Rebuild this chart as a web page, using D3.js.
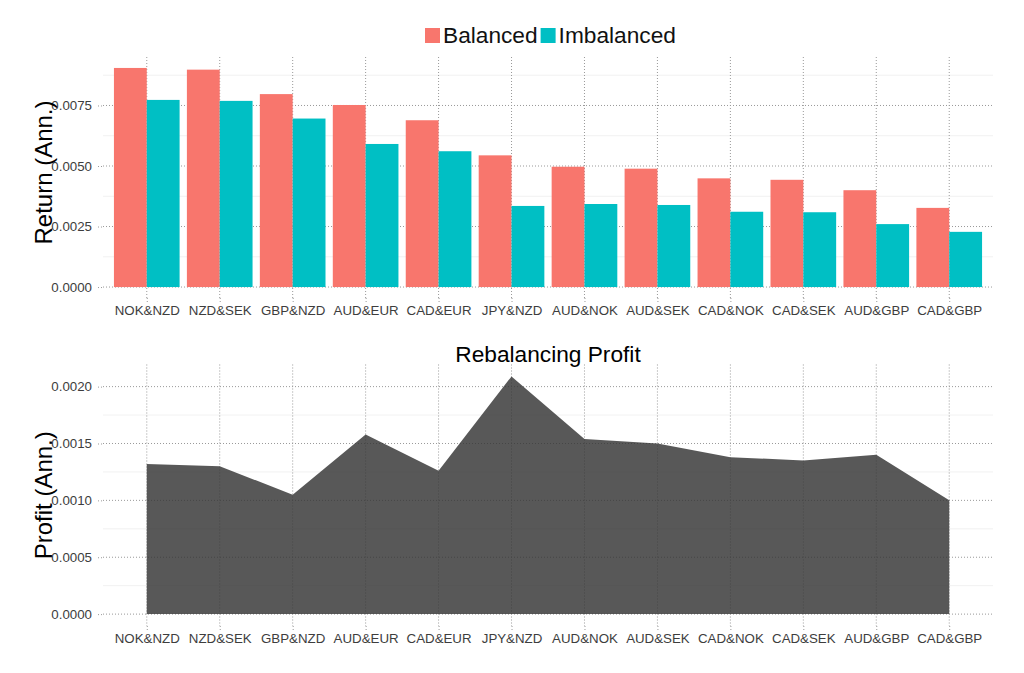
<!DOCTYPE html>
<html>
<head>
<meta charset="utf-8">
<script src="https://cdn.jsdelivr.net/npm/d3@7/dist/d3.min.js"></script>
<style>
  body { margin: 0; background: #fff; }
  text { font-family: "Liberation Sans", Arial, Helvetica, sans-serif; }
</style>
</head>
<body>
<svg id="chart" width="1024" height="673"></svg>
<script>
// currency pairs, in the plotted order
const pairs = ["NOK&NZD", "NZD&SEK", "GBP&NZD", "AUD&EUR", "CAD&EUR", "JPY&NZD",
               "AUD&NOK", "AUD&SEK", "CAD&NOK", "CAD&SEK", "AUD&GBP", "CAD&GBP"];
// annualised returns
const balanced   = [0.00905, 0.00898, 0.00797, 0.00752, 0.00689, 0.00544,
                    0.00497, 0.00489, 0.00449, 0.00443, 0.00400, 0.00327];
const imbalanced = [0.00773, 0.00769, 0.00696, 0.00591, 0.00561, 0.00335,
                    0.00343, 0.00339, 0.00311, 0.00309, 0.00260, 0.00228];
// rebalancing profit (area chart)
const profit     = [0.00132, 0.00130, 0.00105, 0.00158, 0.00126, 0.00209,
                    0.00154, 0.00150, 0.00138, 0.00135, 0.00140, 0.00100];

const seriesNames  = ["Balanced", "Imbalanced"];
const seriesColors = ["#F8766D", "#00BFC4"];
const returnTicks  = [0, 0.0025, 0.005, 0.0075];
const profitTicks  = [0, 0.0005, 0.001, 0.0015, 0.002];

const svg = d3.select("#chart");
const fmt = d3.format(".4f");
const left = 103, right = 993;

// ggplot-like discrete x: 0.6 step of padding at each end
const xPoint = d3.scalePoint().domain(pairs).range([left, right]).padding(0.6);
const xBand = d3.scaleBand().domain(pairs).range([left, right])
  .paddingInner(0.1).paddingOuter(0.15);
const xSub = d3.scaleBand().domain(seriesNames).range([0, xBand.bandwidth()]);

function expand(maxV) { return [-0.05 * maxV, 1.05 * maxV]; }

function gridAndAxes(g, y, ticks, top, bottom) {
  const step = ticks[1] - ticks[0];
  const dom = y.domain();
  const minor = ticks.map(t => t + step / 2).filter(v => v < dom[1]);
  g.append("g").selectAll("line").data(minor).join("line")
    .attr("x1", left).attr("x2", right)
    .attr("y1", d => y(d)).attr("y2", d => y(d))
    .attr("stroke", "#eeeeee").attr("stroke-width", 0.8);
  g.append("g").selectAll("line").data(ticks).join("line")
    .attr("x1", left).attr("x2", right)
    .attr("y1", d => y(d)).attr("y2", d => y(d))
    .attr("stroke", "#999").attr("stroke-dasharray", "1,2");
  g.append("g").selectAll("line").data(pairs).join("line")
    .attr("x1", d => xPoint(d)).attr("x2", d => xPoint(d))
    .attr("y1", top).attr("y2", bottom)
    .attr("stroke", "#999").attr("stroke-dasharray", "1,2");

  const ya = g.append("g").attr("transform", `translate(${left - 1},0)`)
    .call(d3.axisLeft(y).tickValues(ticks).tickFormat(fmt).tickSize(5).tickPadding(5));
  const xa = g.append("g").attr("transform", `translate(0,${bottom})`)
    .call(d3.axisBottom(xPoint).tickSize(4).tickPadding(4));
  [ya, xa].forEach(a => {
    a.select(".domain").remove();
    a.selectAll(".tick line").attr("stroke", "#999").attr("stroke-dasharray", "1,2");
    a.selectAll(".tick text").attr("fill", "#3d3d3d").style("font-size", "13.3px")
      .style("font-family", '"Liberation Sans", Arial, sans-serif');
  });
}

// ---------- top: grouped bars ----------
const topY0 = 57, topY1 = 298;
const yRet = d3.scaleLinear().domain(expand(d3.max(balanced))).range([topY1, topY0]);
const gTop = svg.append("g");
gridAndAxes(gTop, yRet, returnTicks, topY0, topY1);

const barData = pairs.flatMap((p, i) => [
  { pair: p, s: seriesNames[0], v: balanced[i] },
  { pair: p, s: seriesNames[1], v: imbalanced[i] }
]);
const color = d3.scaleOrdinal().domain(seriesNames).range(seriesColors);
gTop.append("g").selectAll("rect").data(barData).join("rect")
  .attr("x", d => xBand(d.pair) + xSub(d.s))
  .attr("width", xSub.bandwidth())
  .attr("y", d => yRet(d.v))
  .attr("height", d => yRet(0) - yRet(d.v))
  .attr("fill", d => color(d.s));

svg.append("text")
  .attr("transform", `translate(52,${(topY0 + topY1) / 2 - 5}) rotate(-90)`)
  .attr("text-anchor", "middle").style("font-size", "24px").attr("fill", "#000")
  .text("Return (Ann.)");

// legend
const leg = svg.append("g");
let lx = 0;
seriesNames.forEach((s, i) => {
  leg.append("rect").attr("x", lx).attr("y", 28).attr("width", 15).attr("height", 15)
    .attr("fill", seriesColors[i]);
  const t = leg.append("text").attr("x", lx + 18).attr("y", 43)
    .style("font-size", "22.7px").attr("fill", "#111").text(s);
  lx += 18 + t.node().getComputedTextLength() + 3;
});
leg.attr("transform", `translate(425,0)`);

// ---------- bottom: area ----------
const botY0 = 364.5, botY1 = 626;
const yPro = d3.scaleLinear().domain(expand(d3.max(profit))).range([botY1, botY0]);
const gBot = svg.append("g");
gridAndAxes(gBot, yPro, profitTicks, botY0, botY1);

const area = d3.area()
  .x((d, i) => xPoint(pairs[i]))
  .y0(yPro(0))
  .y1(d => yPro(d));
gBot.append("path").datum(profit).attr("d", area)
  .attr("fill", "#333333").attr("fill-opacity", 0.82);

svg.append("text")
  .attr("x", (left + right) / 2).attr("y", 362)
  .attr("text-anchor", "middle").style("font-size", "22.7px").attr("fill", "#000")
  .text("Rebalancing Profit");

svg.append("text")
  .attr("transform", `translate(52,${(botY0 + botY1) / 2}) rotate(-90)`)
  .attr("text-anchor", "middle").style("font-size", "24px").attr("fill", "#000")
  .text("Profit (Ann.)");
</script>
</body>
</html>
